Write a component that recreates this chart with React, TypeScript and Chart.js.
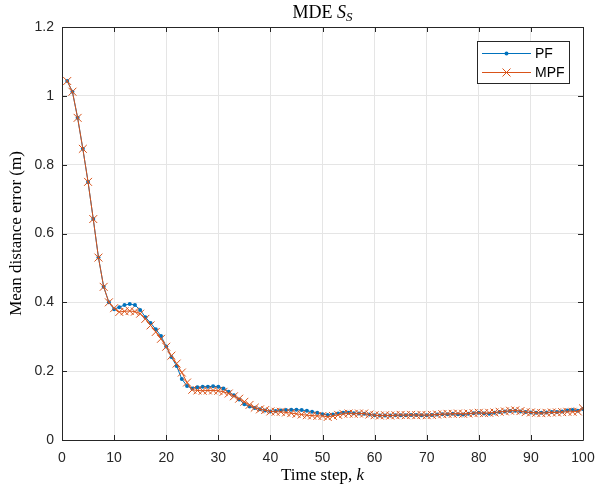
import React, { useEffect, useRef } from "react";
import { Chart, registerables } from "chart.js";

Chart.register(...registerables);

const steps: number[] = Array.from({ length: 100 }, (_, i) => i + 1);

const pfValues: number[] = [
  1.043, 1.012, 0.936, 0.846, 0.75, 0.642, 0.53, 0.445, 0.4, 0.38,
  0.386, 0.392, 0.395, 0.392, 0.378, 0.357, 0.34, 0.322, 0.302, 0.272,
  0.241, 0.215, 0.177, 0.157, 0.15, 0.153, 0.155, 0.155, 0.156, 0.155,
  0.15, 0.14, 0.13, 0.118, 0.104, 0.097, 0.093, 0.089, 0.086, 0.083,
  0.084, 0.086, 0.087, 0.088, 0.088, 0.087, 0.085, 0.082, 0.079, 0.075,
  0.073, 0.074, 0.077, 0.079, 0.079, 0.078, 0.077, 0.076, 0.074, 0.072,
  0.071, 0.071, 0.071, 0.072, 0.072, 0.072, 0.073, 0.073, 0.072, 0.072,
  0.073, 0.074, 0.075, 0.075, 0.076, 0.075, 0.074, 0.076, 0.078, 0.079,
  0.077, 0.076, 0.079, 0.081, 0.083, 0.084, 0.085, 0.083, 0.081, 0.08,
  0.079, 0.079, 0.08, 0.081, 0.081, 0.083, 0.086, 0.087, 0.085, 0.09,
];

const mpfValues: number[] = [
  1.043, 1.012, 0.936, 0.846, 0.75, 0.642, 0.53, 0.445, 0.4, 0.383,
  0.372, 0.374, 0.375, 0.373, 0.367, 0.352, 0.333, 0.314, 0.294, 0.271,
  0.245, 0.222, 0.196, 0.167, 0.146, 0.144, 0.143, 0.144, 0.144, 0.143,
  0.14, 0.135, 0.127, 0.12, 0.111, 0.102, 0.094, 0.089, 0.087, 0.083,
  0.082, 0.082, 0.08, 0.078, 0.076, 0.074, 0.072, 0.071, 0.07, 0.07,
  0.067, 0.07, 0.073, 0.076, 0.077, 0.076, 0.077, 0.077, 0.074, 0.072,
  0.071, 0.072, 0.071, 0.072, 0.073, 0.072, 0.073, 0.072, 0.073, 0.072,
  0.073, 0.074, 0.075, 0.076, 0.076, 0.077, 0.076, 0.077, 0.078, 0.079,
  0.078, 0.079, 0.08, 0.082, 0.083, 0.085, 0.086, 0.084, 0.081, 0.08,
  0.079, 0.078, 0.079, 0.08, 0.08, 0.081, 0.082, 0.082, 0.083, 0.092,
];

const seriesNames: string[] = ["PF", "MPF"];
const xTicks: number[] = [0, 10, 20, 30, 40, 50, 60, 70, 80, 90, 100];
const yTicks: number[] = [0, 0.2, 0.4, 0.6, 0.8, 1, 1.2];

const BLUE = "#0072BD";
const ORANGE = "#D95319";
const AXIS = "#262626";
const SERIF = '"Liberation Serif", "Times New Roman", serif';

const decorPlugin = {
  id: "decor",
  afterDraw(chart: any) {
    const ctx = chart.ctx;
    const { left, right, top, bottom } = chart.chartArea;
    const xs = chart.scales.x;
    const ys = chart.scales.y;
    ctx.save();
    ctx.strokeStyle = AXIS;
    ctx.lineWidth = 1;
    ctx.beginPath();
    ctx.rect(Math.round(left) + 0.5, Math.round(top) + 0.5, Math.round(right - left), Math.round(bottom - top));
    ctx.stroke();
    const tl = 5;
    ctx.beginPath();
    xTicks.forEach((v) => {
      const px = Math.round(xs.getPixelForValue(v)) + 0.5;
      ctx.moveTo(px, bottom);
      ctx.lineTo(px, bottom - tl);
      ctx.moveTo(px, top);
      ctx.lineTo(px, top + tl);
    });
    yTicks.forEach((v) => {
      const py = Math.round(ys.getPixelForValue(v)) + 0.5;
      ctx.moveTo(left, py);
      ctx.lineTo(left + tl, py);
      ctx.moveTo(right, py);
      ctx.lineTo(right - tl, py);
    });
    ctx.stroke();

    // title
    ctx.fillStyle = "#000";
    ctx.textBaseline = "alphabetic";
    const cx = (left + right) / 2;
    ctx.font = `18px ${SERIF}`;
    const t1 = "MDE ";
    const w1 = ctx.measureText(t1).width;
    ctx.font = `italic 18px ${SERIF}`;
    const w2 = ctx.measureText("S").width;
    ctx.font = `italic 13px ${SERIF}`;
    const w3 = ctx.measureText("S").width;
    let sx = cx - (w1 + w2 + w3) / 2;
    const ty = 18;
    ctx.textAlign = "left";
    ctx.font = `18px ${SERIF}`;
    ctx.fillText(t1, sx, ty);
    sx += w1;
    ctx.font = `italic 18px ${SERIF}`;
    ctx.fillText("S", sx, ty);
    sx += w2;
    ctx.font = `italic 13px ${SERIF}`;
    ctx.fillText("S", sx, ty + 3);

    // x title
    ctx.font = `17px ${SERIF}`;
    const xa = "Time step, ";
    const xaw = ctx.measureText(xa).width;
    ctx.font = `italic 17px ${SERIF}`;
    const kw = ctx.measureText("k").width;
    const xx = cx - (xaw + kw) / 2;
    const xty = 480;
    ctx.font = `17px ${SERIF}`;
    ctx.fillText(xa, xx, xty);
    ctx.font = `italic 17px ${SERIF}`;
    ctx.fillText("k", xx + xaw, xty);

    // y title
    ctx.save();
    ctx.translate(21, (top + bottom) / 2);
    ctx.rotate(-Math.PI / 2);
    ctx.textAlign = "center";
    ctx.font = `17px ${SERIF}`;
    ctx.fillText("Mean distance error (m)", 0, 0);
    ctx.restore();

    // legend
    const lx = 477.5, ly = 41.5, lw = 92, lh = 42;
    ctx.fillStyle = "#fff";
    ctx.fillRect(lx, ly, lw, lh);
    ctx.strokeStyle = AXIS;
    ctx.lineWidth = 1;
    ctx.strokeRect(lx, ly, lw, lh);
    const rows = [
      { name: seriesNames[0], color: BLUE, y: 53, marker: "dot" },
      { name: seriesNames[1], color: ORANGE, y: 72, marker: "x" },
    ];
    rows.forEach((r) => {
      ctx.strokeStyle = r.color;
      ctx.lineWidth = 1;
      ctx.beginPath();
      ctx.moveTo(482, r.y + 0.5);
      ctx.lineTo(531, r.y + 0.5);
      ctx.stroke();
      const mx = 506.5;
      if (r.marker === "dot") {
        ctx.fillStyle = r.color;
        ctx.beginPath();
        ctx.arc(mx, r.y + 0.5, 2, 0, Math.PI * 2);
        ctx.fill();
      } else {
        ctx.beginPath();
        ctx.moveTo(mx - 4, r.y + 0.5 - 4);
        ctx.lineTo(mx + 4, r.y + 0.5 + 4);
        ctx.moveTo(mx + 4, r.y + 0.5 - 4);
        ctx.lineTo(mx - 4, r.y + 0.5 + 4);
        ctx.stroke();
      }
      ctx.fillStyle = "#000";
      ctx.textAlign = "left";
      ctx.textBaseline = "middle";
      ctx.font = '14px "Liberation Sans", Arial, sans-serif';
      ctx.fillText(r.name, 535, r.y + 1);
    });
    ctx.restore();
  },
};

export default function App() {
  const ref = useRef<HTMLCanvasElement | null>(null);
  useEffect(() => {
    if (!ref.current) return;
    const chart = new Chart(ref.current, {
      type: "line",
      data: {
        datasets: [
          {
            label: seriesNames[0],
            data: steps.map((s, i) => ({ x: s, y: pfValues[i] })),
            borderColor: BLUE,
            backgroundColor: BLUE,
            borderWidth: 1,
            pointRadius: 2,
            pointHoverRadius: 2,
            pointStyle: "circle",
            pointBorderWidth: 0,
            tension: 0,
            order: 1,
          },
          {
            label: seriesNames[1],
            data: steps.map((s, i) => ({ x: s, y: mpfValues[i] })),
            borderColor: ORANGE,
            backgroundColor: ORANGE,
            borderWidth: 1,
            pointRadius: 5.6,
            pointHoverRadius: 5.6,
            pointStyle: "crossRot",
            pointBorderWidth: 1,
            tension: 0,
            order: 0,
          },
        ],
      },
      options: {
        animation: false,
        responsive: false,
        maintainAspectRatio: false,
        layout: { autoPadding: false, padding: { left: 0, right: 14, top: 27, bottom: 0 } },
        plugins: {
          legend: { display: false },
          title: { display: false },
          tooltip: { enabled: false },
        },
        scales: {
          x: {
            type: "linear",
            min: 0,
            max: 100,
            afterFit: (s: any) => {
              s.height = 51;
              s.paddingLeft = 0;
              s.paddingRight = 0;
            },
            afterBuildTicks: (s: any) => {
              s.ticks = xTicks.map((v) => ({ value: v }));
            },
            ticks: {
              color: AXIS,
              padding: 10,
              maxRotation: 0,
              font: { family: '"Liberation Sans", Arial, sans-serif', size: 14 },
            },
            grid: { color: "#e5e5e5", drawTicks: false },
            border: { display: false },
          },
          y: {
            type: "linear",
            min: 0,
            max: 1.2,
            afterFit: (s: any) => {
              s.width = 62;
              s.paddingTop = 0;
              s.paddingBottom = 0;
            },
            afterBuildTicks: (s: any) => {
              s.ticks = yTicks.map((v) => ({ value: v }));
            },
            ticks: {
              color: AXIS,
              padding: 8,
              font: { family: '"Liberation Sans", Arial, sans-serif', size: 14 },
              callback: (v: any) => String(Number(Number(v).toFixed(1))),
            },
            grid: { color: "#e5e5e5", drawTicks: false },
            border: { display: false },
          },
        },
      },
      plugins: [decorPlugin],
    });
    return () => chart.destroy();
  }, []);
  return (
    <div style={{ position: "absolute", left: 0, top: 0, width: 597, height: 491, background: "#fff" }}>
      <canvas ref={ref} width={597} height={491} style={{ width: 597, height: 491 }} />
    </div>
  );
}
